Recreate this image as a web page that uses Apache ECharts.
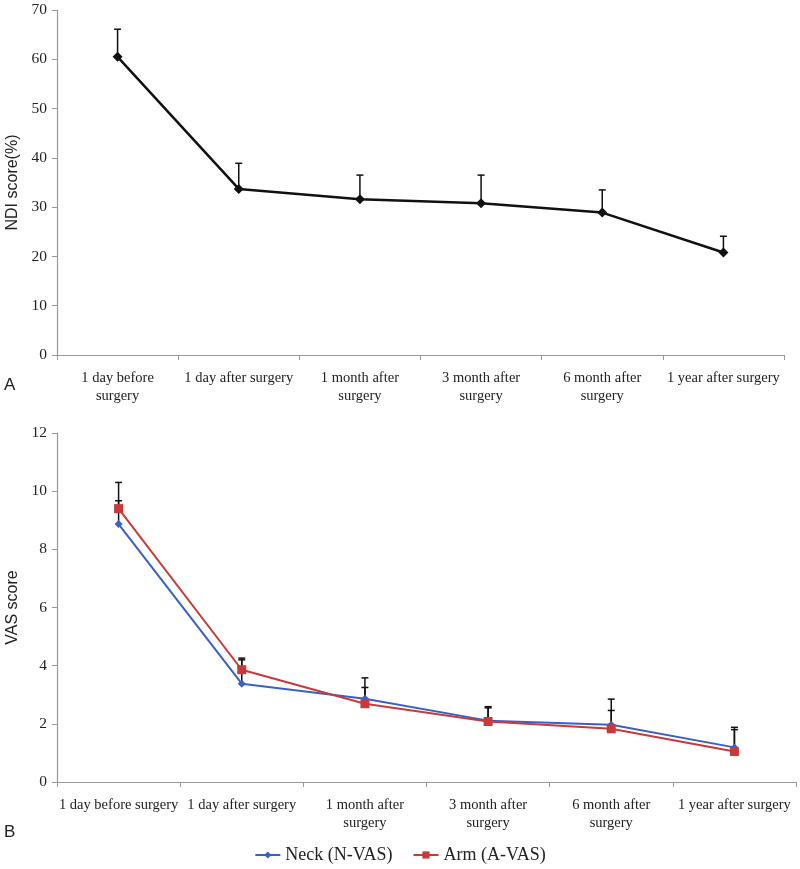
<!DOCTYPE html>
<html>
<head>
<meta charset="utf-8">
<script src="https://cdn.jsdelivr.net/npm/echarts@6/dist/echarts.min.js"></script>
<style>html,body{margin:0;padding:0;background:#fff}#c{width:800px;height:869px}</style>
</head>
<body>
<div id="c"></div>
<script>
const catsA = ['1 day before\nsurgery','1 day after surgery','1 month after\nsurgery','3 month after\nsurgery','6 month after\nsurgery','1 year after surgery'];
const catsB = ['1 day before surgery','1 day after surgery','1 month after\nsurgery','3 month after\nsurgery','6 month after\nsurgery','1 year after surgery'];
const ndi = [60.5, 33.7, 31.6, 30.8, 28.9, 20.8];
const ndiTop = [66.1, 38.9, 36.5, 36.5, 33.5, 24.1];
const neck = [8.87, 3.38, 2.86, 2.11, 1.97, 1.19];
const neckTop = [9.67, 4.2, 3.58, 2.55, 2.85, 1.88];
const arm = [9.40, 3.86, 2.69, 2.08, 1.83, 1.05];
const armTop = [10.3, 4.26, 3.25, 2.59, 2.46, 1.80];

const chart = echarts.init(document.getElementById('c'));
const serif = 'Liberation Serif';
const sans = 'Liberation Sans';

function errData(vals, tops){ return vals.map((v,i)=>[i, v, tops[i]]); }
function errSeries(xi, yi, vals, tops){
  return {
    type:'custom', xAxisIndex:xi, yAxisIndex:yi, z:1,
    data: errData(vals, tops),
    renderItem: function(params, api){
      const p0 = api.coord([api.value(0), api.value(1)]);
      const p1 = api.coord([api.value(0), api.value(2)]);
      const st = {stroke:'#111', lineWidth:1.5};
      return {type:'group', children:[
        {type:'line', shape:{x1:p0[0],y1:p0[1],x2:p1[0],y2:p1[1]}, style:st},
        {type:'line', shape:{x1:p1[0]-3.5,y1:p1[1],x2:p1[0]+3.5,y2:p1[1]}, style:st}
      ]};
    }
  };
}
const axisLbl = {color:'#222', fontFamily:serif, fontSize:14.5, lineHeight:18};
function xAx(idx, cats){
  return {type:'category', gridIndex:idx, data:cats, boundaryGap:true,
    axisLine:{show:true, lineStyle:{color:'#999', width:1.2}},
    axisTick:{show:true, length:5, lineStyle:{color:'#999'}},
    axisLabel:Object.assign({interval:0, margin:14}, axisLbl)};
}
function yAx(idx, max, interval, name){
  return {type:'value', gridIndex:idx, min:0, max:max, interval:interval,
    name:name, nameLocation:'middle', nameGap:35,
    nameTextStyle:{fontFamily:sans, fontSize:16, color:'#222'},
    axisLine:{show:true, lineStyle:{color:'#999', width:1.2}},
    axisTick:{show:true, length:5, lineStyle:{color:'#999'}},
    splitLine:{show:false},
    axisLabel:{color:'#222', fontFamily:serif, fontSize:15.5, margin:10}};
}

chart.setOption({
  animation:false,
  backgroundColor:'#fff',
  graphic:[
    {type:'text', left:4, top:377, style:{text:'A', font:'17px Liberation Sans', fill:'#222'}},
    {type:'text', left:4, top:824, style:{text:'B', font:'17px Liberation Sans', fill:'#222'}}
  ],
  legend:{
    data:['Neck (N-VAS)','Arm (A-VAS)'], bottom:0, left:'center',
    itemWidth:25, itemHeight:9, itemGap:20,
    textStyle:{fontFamily:serif, fontSize:18, color:'#222'}
  },
  grid:[
    {left:57, top:10, width:727, height:345, outerBoundsMode:'none'},
    {left:57, top:433, width:739, height:349, outerBoundsMode:'none'}
  ],
  xAxis:[xAx(0, catsA), xAx(1, catsB)],
  yAxis:[yAx(0, 70, 10, 'NDI score(%)'), yAx(1, 12, 2, 'VAS score')],
  series:[
    errSeries(0,0, ndi, ndiTop),
    {type:'line', name:'NDI', xAxisIndex:0, yAxisIndex:0, data:ndi, z:3,
      symbol:'diamond', symbolSize:10, lineStyle:{color:'#111', width:2.5},
      itemStyle:{color:'#111'}},
    errSeries(1,1, neck, neckTop),
    errSeries(1,1, arm, armTop),
    {type:'line', name:'Neck (N-VAS)', xAxisIndex:1, yAxisIndex:1, data:neck, z:3,
      symbol:'diamond', symbolSize:8, lineStyle:{color:'#3a60c8', width:2},
      itemStyle:{color:'#3a60c8'}},
    {type:'line', name:'Arm (A-VAS)', xAxisIndex:1, yAxisIndex:1, data:arm, z:4,
      symbol:'rect', symbolSize:9, lineStyle:{color:'#c83a3a', width:2},
      itemStyle:{color:'#c83a3a'}}
  ]
});
</script>
</body>
</html>
